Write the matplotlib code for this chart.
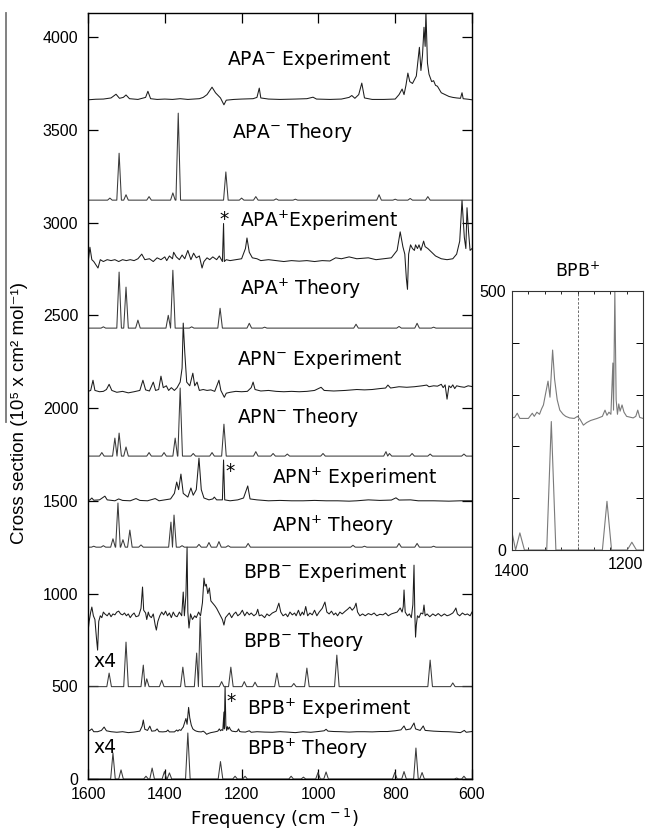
import matplotlib.pyplot as plt
import numpy as np

plt.rcParams['font.family'] = ['Liberation Sans', 'DejaVu Sans']
plt.rcParams['mathtext.fontset'] = 'dejavusans'

# experiment traces: (frequency cm-1, plotted cross section)
apa_m_exp = [(1600, 3662), (1580, 3665), (1560, 3666), (1540, 3672), (1527, 3692), (1518, 3670),
             (1508, 3675), (1501, 3688), (1492, 3668), (1470, 3664), (1450, 3675), (1444, 3708),
             (1437, 3668), (1420, 3664), (1400, 3666), (1380, 3664), (1360, 3668), (1340, 3664),
             (1310, 3668), (1300, 3675), (1290, 3690), (1277, 3730), (1268, 3700), (1255, 3672),
             (1246, 3635), (1240, 3660), (1220, 3664), (1200, 3666), (1170, 3668), (1160, 3675),
             (1154, 3725), (1150, 3672), (1130, 3666), (1100, 3664), (1060, 3666), (1030, 3668),
             (1014, 3676), (1005, 3666), (970, 3664), (940, 3666), (920, 3675), (913, 3685),
             (905, 3670), (895, 3690), (887, 3752), (880, 3672), (860, 3664), (830, 3664),
             (800, 3666), (790, 3690), (782, 3720), (777, 3690), (772, 3740), (767, 3806),
             (762, 3760), (755, 3750), (745, 3790), (737, 3945), (733, 3820), (729, 3900),
             (725, 4053), (722, 3950), (720, 4140), (716, 3860), (712, 3800), (705, 3760),
             (700, 3765), (695, 3740), (690, 3735), (680, 3700), (670, 3690), (660, 3680),
             (650, 3675), (640, 3672), (630, 3670), (626, 3700), (623, 3668), (610, 3665),
             (600, 3662)]

apa_p_exp = [(1600, 2781), (1595, 2867), (1590, 2800), (1585, 2790), (1574, 2755), (1568, 2800),
             (1560, 2790), (1550, 2800), (1540, 2795), (1530, 2800), (1520, 2790), (1510, 2800),
             (1500, 2795), (1490, 2800), (1480, 2795), (1470, 2805), (1460, 2830), (1452, 2800),
             (1440, 2805), (1430, 2790), (1420, 2810), (1410, 2800), (1400, 2815), (1395, 2795),
             (1388, 2820), (1380, 2805), (1377, 2840), (1370, 2815), (1362, 2800), (1355, 2825),
             (1348, 2805), (1340, 2850), (1332, 2800), (1325, 2835), (1318, 2810), (1310, 2820),
             (1303, 2755), (1298, 2790), (1290, 2810), (1283, 2800), (1275, 2815), (1265, 2800),
             (1258, 2820), (1250, 2790), (1247, 2995), (1245, 2790), (1240, 2800), (1230, 2795),
             (1215, 2800), (1200, 2805), (1190, 2860), (1186, 2917), (1180, 2840), (1172, 2810),
             (1160, 2805), (1150, 2795), (1130, 2800), (1110, 2795), (1090, 2790), (1070, 2795),
             (1050, 2792), (1030, 2795), (1010, 2790), (990, 2795), (970, 2793), (955, 2810),
             (940, 2805), (920, 2815), (900, 2805), (870, 2810), (850, 2800), (830, 2805),
             (810, 2810), (795, 2850), (787, 2950), (780, 2870), (775, 2830), (771, 2700),
             (768, 2640), (765, 2830), (760, 2880), (755, 2860), (750, 2850), (747, 2880),
             (742, 2860), (738, 2880), (733, 2850), (726, 2900), (722, 2870), (715, 2860),
             (705, 2840), (695, 2820), (680, 2805), (665, 2800), (650, 2805), (640, 2830),
             (632, 2900), (626, 3120), (620, 2920), (616, 2860), (613, 3080), (609, 2950),
             (605, 2850), (600, 2860)]

apn_m_exp = [(1600, 2090), (1593, 2095), (1587, 2150), (1582, 2095), (1570, 2088), (1560, 2090),
             (1552, 2100), (1545, 2128), (1538, 2095), (1525, 2085), (1510, 2090), (1495, 2082),
             (1480, 2088), (1465, 2095), (1457, 2150), (1450, 2098), (1440, 2092), (1430, 2140),
             (1424, 2095), (1416, 2100), (1410, 2172), (1404, 2110), (1396, 2120), (1390, 2095),
             (1383, 2110), (1375, 2095), (1368, 2110), (1360, 2140), (1355, 2215), (1352, 2458),
             (1348, 2300), (1343, 2140), (1335, 2120), (1327, 2188), (1322, 2120), (1316, 2140),
             (1310, 2095), (1300, 2100), (1290, 2095), (1280, 2098), (1270, 2090), (1259, 2150),
             (1254, 2095), (1245, 2058), (1240, 2080), (1230, 2085), (1215, 2090), (1200, 2088),
             (1185, 2090), (1175, 2110), (1170, 2140), (1165, 2100), (1150, 2092), (1130, 2095),
             (1110, 2090), (1090, 2088), (1070, 2090), (1050, 2088), (1030, 2090), (1010, 2095),
             (993, 2112), (985, 2095), (960, 2092), (930, 2095), (900, 2100), (880, 2098),
             (860, 2100), (840, 2105), (825, 2108), (819, 2124), (812, 2108), (790, 2115),
             (770, 2112), (750, 2115), (730, 2120), (718, 2124), (712, 2115), (700, 2120),
             (690, 2118), (680, 2128), (675, 2110), (670, 2125), (665, 2048), (660, 2120),
             (655, 2110), (650, 2125), (645, 2105), (640, 2120), (630, 2115), (620, 2112),
             (610, 2120), (600, 2116)]

apn_p_exp = [(1600, 1500), (1595, 1505), (1590, 1515), (1585, 1503), (1570, 1505), (1556, 1525),
             (1550, 1505), (1530, 1500), (1520, 1510), (1510, 1502), (1490, 1500), (1475, 1512),
             (1465, 1502), (1445, 1500), (1425, 1512), (1415, 1500), (1400, 1505), (1385, 1510),
             (1375, 1540), (1369, 1601), (1364, 1560), (1358, 1644), (1352, 1540), (1340, 1520),
             (1332, 1569), (1326, 1530), (1318, 1560), (1311, 1730), (1305, 1560), (1298, 1515),
             (1285, 1505), (1275, 1510), (1271, 1520), (1265, 1505), (1250, 1505), (1247, 1720),
             (1244, 1505), (1230, 1500), (1210, 1505), (1195, 1515), (1184, 1580), (1178, 1510),
             (1160, 1505), (1130, 1500), (1100, 1502), (1070, 1500), (1040, 1500), (1010, 1502),
             (980, 1500), (950, 1500), (920, 1498), (900, 1500), (870, 1505), (840, 1502),
             (810, 1504), (798, 1516), (790, 1504), (760, 1505), (740, 1500), (700, 1500),
             (660, 1498), (630, 1500), (600, 1500)]

bpb_m_exp = [(1600, 792), (1597, 850), (1593, 900), (1590, 927), (1586, 880), (1582, 860),
             (1578, 760), (1575, 695), (1572, 850), (1568, 880), (1564, 870), (1560, 900),
             (1556, 890), (1550, 880), (1545, 895), (1540, 875), (1535, 890), (1530, 885),
             (1525, 900), (1520, 905), (1515, 890), (1510, 885), (1505, 895), (1500, 880),
             (1495, 890), (1490, 870), (1485, 885), (1480, 895), (1475, 875), (1468, 880),
             (1462, 920), (1458, 1035), (1455, 910), (1450, 895), (1447, 860), (1443, 900),
             (1440, 880), (1435, 870), (1430, 890), (1425, 830), (1422, 803), (1418, 850),
             (1413, 880), (1408, 900), (1403, 885), (1398, 905), (1393, 880), (1388, 895),
             (1383, 870), (1378, 900), (1373, 880), (1368, 875), (1362, 900), (1356, 880),
             (1352, 1008), (1349, 880), (1345, 990), (1342, 1250), (1340, 900), (1337, 814),
             (1333, 890), (1328, 860), (1322, 880), (1318, 870), (1312, 900), (1307, 880),
             (1302, 950), (1298, 1083), (1295, 1040), (1292, 1050), (1288, 1000), (1284, 1030),
             (1280, 960), (1276, 950), (1270, 935), (1265, 920), (1260, 900), (1255, 880),
             (1250, 860), (1246, 830), (1242, 870), (1238, 880), (1232, 895), (1226, 870),
             (1220, 890), (1215, 900), (1210, 880), (1204, 890), (1198, 910), (1192, 880),
             (1186, 900), (1180, 885), (1175, 895), (1168, 880), (1162, 890), (1158, 915),
             (1154, 880), (1148, 885), (1140, 870), (1134, 890), (1128, 880), (1120, 895),
             (1110, 905), (1103, 948), (1098, 900), (1092, 880), (1085, 890), (1080, 875),
             (1074, 900), (1068, 885), (1062, 895), (1058, 880), (1052, 910), (1047, 880),
             (1042, 900), (1038, 885), (1033, 930), (1028, 880), (1022, 895), (1016, 885),
             (1010, 910), (1004, 880), (998, 900), (990, 920), (983, 954), (978, 900),
             (972, 890), (966, 905), (960, 885), (955, 895), (950, 880), (944, 900),
             (938, 890), (930, 905), (924, 915), (918, 927), (912, 910), (906, 925),
             (902, 948), (898, 900), (892, 880), (885, 890), (878, 880), (870, 892),
             (862, 885), (855, 895), (848, 880), (840, 888), (832, 885), (825, 895),
             (818, 880), (810, 890), (802, 895), (795, 900), (787, 922), (782, 900),
             (779, 930), (777, 1019), (774, 900), (768, 880), (763, 890), (758, 870),
             (754, 940), (751, 1153), (749, 900), (747, 765), (745, 830), (742, 880),
             (738, 870), (733, 895), (728, 890), (725, 938), (722, 880), (717, 890),
             (710, 875), (702, 890), (695, 880), (688, 892), (680, 878), (672, 890),
             (665, 880), (658, 885), (650, 895), (645, 910), (642, 922), (638, 890),
             (632, 880), (625, 895), (618, 885), (612, 890), (605, 880), (600, 900)]

bpb_p_exp = [(1600, 258), (1595, 262), (1590, 270), (1585, 255), (1575, 255), (1565, 262),
             (1558, 280), (1552, 260), (1540, 255), (1525, 252), (1510, 255), (1495, 250),
             (1480, 253), (1465, 258), (1459, 285), (1456, 318), (1452, 268), (1445, 262),
             (1439, 285), (1434, 258), (1425, 260), (1420, 270), (1415, 255), (1405, 254),
             (1396, 256), (1392, 264), (1388, 254), (1375, 254), (1369, 264), (1366, 258),
             (1362, 266), (1358, 262), (1355, 272), (1352, 280), (1349, 300), (1345, 326),
             (1342, 295), (1338, 386), (1335, 330), (1331, 290), (1327, 270), (1322, 262),
             (1318, 258), (1312, 255), (1305, 254), (1300, 258), (1296, 252), (1291, 241),
             (1286, 246), (1280, 250), (1270, 254), (1262, 258), (1258, 270), (1255, 260),
             (1252, 266), (1249, 262), (1246, 361), (1245, 270), (1243, 500), (1241, 290),
             (1239, 262), (1237, 282), (1235, 268), (1232, 280), (1229, 266), (1225, 258),
             (1215, 255), (1211, 258), (1208, 270), (1205, 256), (1200, 254), (1190, 253),
             (1180, 260), (1175, 252), (1160, 255), (1140, 253), (1120, 252), (1100, 255),
             (1080, 253), (1060, 250), (1040, 255), (1020, 252), (1000, 256), (985, 260),
             (980, 268), (975, 258), (960, 256), (940, 255), (920, 253), (900, 255),
             (880, 255), (860, 254), (840, 256), (820, 256), (800, 260), (785, 265),
             (777, 286), (772, 265), (760, 270), (751, 302), (747, 270), (735, 262),
             (727, 286), (722, 262), (700, 258), (680, 256), (660, 255), (640, 252),
             (630, 250), (620, 262), (615, 252), (600, 256)]

# theory traces: baseline and (peak position, peak top)
apa_m_th_base = 3121
apa_m_th = [(1543, 3132), (1519, 3374), (1501, 3150), (1441, 3140), (1379, 3160), (1365, 3590),
            (1241, 3273), (1200, 3132), (1163, 3140), (1110, 3128), (1060, 3126), (842, 3150),
            (800, 3126), (761, 3130), (715, 3140)]
apa_p_th_base = 2431
apa_p_th = [(1560, 2438), (1519, 2733), (1501, 2652), (1470, 2474), (1391, 2500), (1379, 2743),
            (1330, 2438), (1256, 2538), (1180, 2457), (1140, 2436), (902, 2452), (790, 2440),
            (743, 2457), (700, 2436)]
apn_m_th_base = 1741
apn_m_th = [(1564, 1760), (1530, 1838), (1519, 1865), (1501, 1790), (1441, 1760), (1402, 1760),
            (1373, 1838), (1360, 2108), (1326, 1755), (1277, 1760), (1246, 1913), (1163, 1765),
            (1118, 1755), (1081, 1752), (988, 1755), (824, 1765), (815, 1755), (756, 1755),
            (709, 1752), (621, 1752)]
apn_p_th_base = 1250
apn_p_th = [(1585, 1255), (1560, 1258), (1535, 1295), (1522, 1488), (1509, 1290), (1491, 1342),
            (1462, 1262), (1384, 1385), (1376, 1423), (1355, 1258), (1311, 1265), (1285, 1275),
            (1259, 1280), (1235, 1258), (1183, 1270), (910, 1260), (880, 1255), (790, 1270),
            (743, 1270), (700, 1255)]
bpb_m_th_base = 498
bpb_m_th = [(1545, 571), (1501, 738), (1456, 614), (1447, 540), (1408, 533), (1353, 603),
            (1317, 679), (1308, 873), (1252, 525), (1228, 603), (1193, 525), (1165, 522),
            (1108, 571), (1064, 515), (1030, 598), (952, 668), (709, 641), (650, 518)]
bpb_p_th_base = 0
bpb_p_th = [(1535, 140), (1514, 49), (1449, 15), (1433, 59), (1401, 40), (1388, 33),
            (1340, 248), (1255, 94), (1217, 15), (1191, 15), (1071, 15), (1039, 10),
            (1001, 35), (980, 38), (801, 35), (777, 40), (746, 167), (730, 35),
            (640, 5), (621, 15)]


def sticks(peaks, base, hw=5):
    pk = sorted(peaks, reverse=True)
    xs = [1600.0]
    ys = [base]
    for i, (f, v) in enumerate(pk):
        lo, hi = f + hw, f - hw
        if i > 0:
            lo = min(lo, (f + pk[i - 1][0]) / 2)
        if i < len(pk) - 1:
            hi = max(hi, (f + pk[i + 1][0]) / 2)
        xs += [lo, f, hi]
        ys += [base, v, base]
    xs.append(600.0)
    ys.append(base)
    return xs, ys


W, H = 649, 832
fig = plt.figure(figsize=(W / 100, H / 100), dpi=100)
ax = fig.add_axes([88 / W, 1 - 779 / H, 384 / W, 766 / H])

expcol = '#1c1c1c'
thcol = '#3a3a3a'
for tr in [apa_m_exp, apa_p_exp, apn_m_exp, apn_p_exp, bpb_m_exp, bpb_p_exp]:
    a = np.array(tr, dtype=float)
    ax.plot(a[:, 0], a[:, 1], color=expcol, lw=0.75)
for pk, base, hw in [(apa_m_th, apa_m_th_base, 6), (apa_p_th, apa_p_th_base, 6),
                     (apn_m_th, apn_m_th_base, 6), (apn_p_th, apn_p_th_base, 6),
                     (bpb_m_th, bpb_m_th_base, 6), (bpb_p_th, bpb_p_th_base, 6)]:
    xs, ys = sticks(pk, base, hw)
    ax.plot(xs, ys, color=thcol, lw=0.75)

ax.set_xlim(1600, 600)
ax.set_ylim(0, 4130)
ax.set_xticks([1600, 1400, 1200, 1000, 800, 600])
ax.set_yticks(range(0, 4001, 500))
ax.tick_params(direction='in', top=True, right=True, length=7, width=0.9, labelsize=11.5)
ax.tick_params(axis='x', pad=6)
ax.tick_params(axis='y', pad=7)
for s in ax.spines.values():
    s.set_linewidth(1.0)

lab_font = dict(family='DejaVu Sans', fontsize=13.5, va='baseline', ha='left')
ax.text(1238, 3849, r'APA$^{-}$ Experiment', **lab_font)
ax.text(1225, 3456, r'APA$^{-}$ Theory', **lab_font)
ax.text(1204, 2976, r'APA$^{+}$Experiment', **lab_font)
ax.text(1204, 2609, r'APA$^{+}$ Theory', **lab_font)
ax.text(1212, 2232, r'APN$^{-}$ Experiment', **lab_font)
ax.text(1212, 1919, r'APN$^{-}$ Theory', **lab_font)
ax.text(1121, 1590, r'APN$^{+}$ Experiment', **lab_font)
ax.text(1121, 1332, r'APN$^{+}$ Theory', **lab_font)
ax.text(1196, 1084, r'BPB$^{-}$ Experiment', **lab_font)
ax.text(1196, 712, r'BPB$^{-}$ Theory', **lab_font)
ax.text(1186, 345, r'BPB$^{+}$ Experiment', **lab_font)
ax.text(1186, 129, r'BPB$^{+}$ Theory', **lab_font)
ax.text(1587, 604, 'x4', **lab_font)
ax.text(1587, 140, 'x4', **lab_font)
star = dict(family='DejaVu Sans', fontsize=13.5, va='baseline', ha='center')
ax.text(1246, 2987, '*', **star)
ax.text(1230, 1628, '*', **star)
ax.text(1228, 388, '*', **star)

ax.set_xlabel(r'Frequency (cm$^{\,-1}$)', family='DejaVu Sans', fontsize=13)
ax.xaxis.set_label_coords(0.484, -0.037)
fig.text(20 / W, 1 - 413 / H, 'Cross section (10⁵ x cm² mol⁻¹)', rotation=90,
         ha='center', va='center', fontsize=13.5)
fig.add_artist(plt.Line2D([5.5 / W, 5.5 / W], [1 - 13 / H, 1 - 422 / H], color='#777777',
                          lw=1.3, transform=fig.transFigure))

# inset: BPB+ zoom
ax2 = fig.add_axes([512 / W, 1 - 550 / H, 131 / W, 259 / H])
a = np.array(bpb_p_exp, dtype=float)
ax2.plot(a[:, 0], a[:, 1], color='#7a7a7a', lw=0.8)
xs, ys = sticks(bpb_p_th, bpb_p_th_base, 7)
ax2.plot(xs, ys, color='#7a7a7a', lw=0.8)
ax2.axvline(1300, color='#555555', lw=0.6, ls=(0, (3, 2)))
ax2.set_xlim(1400, 1200)
ax2.set_ylim(0, 500)
ax2.set_xticks([1400, 1200])
ax2.set_xticks(np.arange(1200, 1401, 25), minor=True)
ax2.set_yticks(range(0, 501, 100))
ax2.set_yticklabels(['0', '', '', '', '', '500'])
ax2.tick_params(direction='in', top=True, right=True, length=5, width=0.7, labelsize=11.5)
ax2.tick_params(which='minor', direction='in', top=True, bottom=True, length=2.5, width=0.6)
ax2.tick_params(axis='y', pad=4)
xt = ax2.xaxis.get_major_ticks()
xt[0].set_pad(10)
xt[1].set_pad(5)
ax2.get_xticklabels()[1].set_ha('right')
for s in ax2.spines.values():
    s.set_linewidth(0.8)
    s.set_color('#333333')
ax2.text(0.5, 1 + 14 / 259, r'BPB$^{+}$', transform=ax2.transAxes, ha='center', va='baseline',
         family='DejaVu Sans', fontsize=12.5)

fig.savefig('out.png', dpi=100)
